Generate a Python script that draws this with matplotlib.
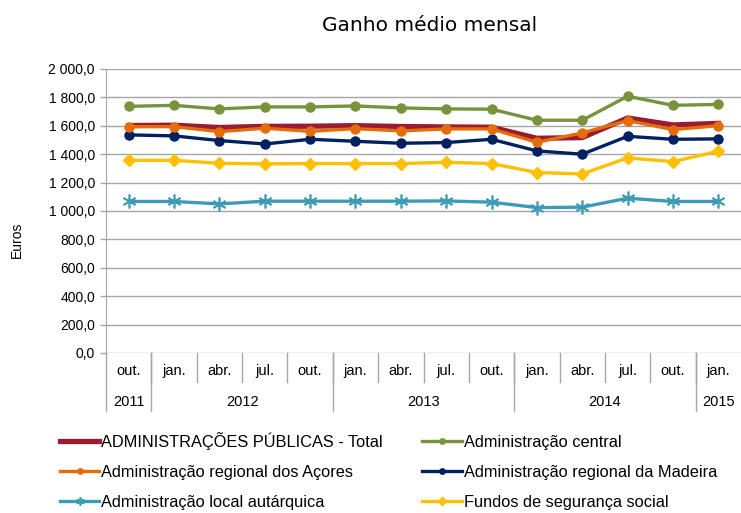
import matplotlib
matplotlib.use("Agg")
import matplotlib.pyplot as plt
from matplotlib.lines import Line2D

# meses e anos do eixo x
meses = ["out.", "jan.", "abr.", "jul.", "out.", "jan.", "abr.", "jul.", "out.",
         "jan.", "abr.", "jul.", "out.", "jan."]
anos = ["2011", "2012", "2013", "2014", "2015"]
anos_inicio = [0, 1, 5, 9, 13]
anos_fim = [0, 4, 8, 12, 13]

# valores (euros)
total = [1602, 1604, 1588, 1596, 1597, 1601, 1595, 1592, 1590, 1512, 1517, 1655, 1606, 1617]
central = [1737, 1744, 1719, 1733, 1733, 1740, 1726, 1719, 1717, 1639, 1639, 1808, 1744, 1751]
acores = [1594, 1594, 1559, 1583, 1561, 1580, 1564, 1578, 1578, 1484, 1550, 1637, 1573, 1601]
madeira = [1536, 1529, 1496, 1472, 1505, 1491, 1477, 1482, 1505, 1423, 1400, 1526, 1505, 1508]
local = [1067, 1067, 1050, 1069, 1069, 1069, 1069, 1071, 1062, 1024, 1027, 1090, 1067, 1067]
fundos = [1357, 1357, 1336, 1332, 1334, 1334, 1334, 1343, 1334, 1271, 1261, 1374, 1348, 1421]

nomes = ["ADMINISTRAÇÕES PÚBLICAS - Total", "Administração central",
         "Administração regional dos Açores", "Administração regional da Madeira",
         "Administração local autárquica", "Fundos de segurança social"]

plt.rcParams["font.family"] = ["Liberation Sans", "DejaVu Sans"]

fig = plt.figure(figsize=(7.41, 5.13), dpi=100)
ax = fig.add_axes([106 / 741, 1 - 353 / 513, 635 / 741, 284 / 513])

x = list(range(len(meses)))
cinza = "#A6A6A6"

for v in range(0, 2001, 200):
    ax.axhline(v, color=cinza, lw=1.0, zorder=0)

l_total, = ax.plot(x, total, color="#9B1B30", lw=3.8, zorder=3)
l_central, = ax.plot(x, central, color="#77933C", lw=2.4, marker="o", ms=6.5, zorder=4)
l_acores, = ax.plot(x, acores, color="#E46C0A", lw=2.4, marker="o", ms=6.5, zorder=5)
l_madeira, = ax.plot(x, madeira, color="#002060", lw=2.4, marker="o", ms=6.5, zorder=4)
l_local, = ax.plot(x, local, color="#3E9BB5", lw=2.4, marker=(6, 2, 0), ms=10, mew=1.2, zorder=4)
l_fundos, = ax.plot(x, fundos, color="#FFC000", lw=2.4, marker="D", ms=6.5, zorder=4)

ax.set_xlim(-0.5, len(meses) - 0.5)
ax.set_ylim(0, 2000)
ax.set_yticks(range(0, 2001, 200))
ax.set_yticklabels([f"{v:,.1f}".replace(",", " ").replace(".", ",") for v in range(0, 2001, 200)],
                   fontsize=10)
ax.tick_params(axis="y", length=4.5, color=cinza, width=1)
ax.set_xticks([])
for s in ["top", "right", "bottom"]:
    ax.spines[s].set_visible(False)
ax.spines["left"].set_color(cinza)
ax.set_ylabel("Euros", fontsize=10)
ax.yaxis.set_label_coords(-0.13, 0.40)

# rótulos do eixo de categorias
tr = ax.get_xaxis_transform()
for i, m in enumerate(meses):
    ax.text(i, -0.065, m, transform=tr, ha="center", va="center", fontsize=10.5)
for k in range(1, len(meses)):
    ax.add_line(Line2D([k - 0.5, k - 0.5], [0, -0.102], transform=tr, color=cinza, lw=1, clip_on=False))
for a, i0, i1 in zip(anos, anos_inicio, anos_fim):
    ax.text((i0 + i1) / 2, -0.172, a, transform=tr, ha="center", va="center", fontsize=10.5)
    ax.add_line(Line2D([i0 - 0.5, i0 - 0.5], [0, -0.204], transform=tr, color=cinza, lw=1, clip_on=False))

fig.text(430 / 741, 1 - 31 / 513, "Ganho médio mensal", ha="center", va="baseline",
         fontsize=14.5, family="DejaVu Sans")

handles = [l_total, l_acores, l_local, l_central, l_madeira, l_fundos]
labels = [nomes[0], nomes[2], nomes[4], nomes[1], nomes[3], nomes[5]]
fig.legend(handles, labels, ncol=2, loc="upper left", bbox_to_anchor=(60 / 741, 1 - 432 / 513),
           frameon=False, fontsize=11.8, handlelength=2.4, handletextpad=0.12,
           columnspacing=2.4, labelspacing=0.92, borderpad=0, borderaxespad=0, markerscale=0.6)

fig.savefig("out.png", dpi=100)
